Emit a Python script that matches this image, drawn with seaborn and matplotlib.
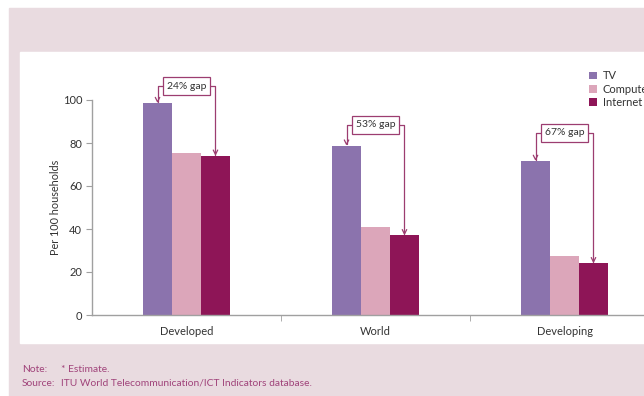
import matplotlib
matplotlib.use("Agg")
import matplotlib.pyplot as plt
from matplotlib.patches import Rectangle
import seaborn as sns
import pandas as pd

regions = ["Developed", "World", "Developing"]
items = ["TV", "Computer", "Internet"]
tv = [98.5, 78.7, 71.6]
computer = [75.5, 41.0, 27.6]
internet = [74.0, 37.0, 24.0]
gap_labels = ["24% gap", "53% gap", "67% gap"]
gap_y = [106.5, 88.4, 84.7]
colors = ["#8b73ad", "#dca6ba", "#8e1557"]

df = pd.DataFrame({
    "region": regions * 3,
    "item": [it for it in items for _ in regions],
    "value": tv + computer + internet,
})

sns.set_style("white")
plt.rcParams["font.family"] = ["Lato", "DejaVu Sans"]

fig = plt.figure(figsize=(6.44, 3.96), dpi=100)
W, H = 644, 396
pink = "#e9dbe0"
fig.patches.append(Rectangle((9 / W, 0), 1, 1 - 8 / H, transform=fig.transFigure,
                             color=pink, zorder=-2))
fig.patches.append(Rectangle((20 / W, 1 - 343 / H), 1, (343 - 52) / H,
                             transform=fig.transFigure, color="white", zorder=-1))

ax = fig.add_axes([92 / W, 1 - 315 / H, (659 - 92) / W, 215 / H])
ax.patch.set_alpha(0)

sns.barplot(data=df, x="region", y="value", hue="item", palette=colors,
            width=0.46, saturation=1, linewidth=0, ax=ax)

ax.set_xlim(-0.5, 2.5)
ax.set_ylim(0, 100)
ax.set_yticks([0, 20, 40, 60, 80, 100])
ax.set_xlabel("")
ax.set_ylabel("Per 100 households", fontsize=7.8, color="#333333", labelpad=1.5)
sns.despine(ax=ax, top=True, right=True)
for s in ["left", "bottom"]:
    ax.spines[s].set_color("#a0a0a0")
    ax.spines[s].set_linewidth(1)
ax.tick_params(axis="y", length=4, color="#a0a0a0", labelsize=8,
               labelcolor="#333333", pad=3, left=True)
ax.tick_params(axis="x", length=0, labelsize=8, labelcolor="#333333", pad=8)
ax.set_xticks([0.5, 1.5], minor=True)
ax.tick_params(axis="x", which="minor", length=4, color="#a0a0a0", bottom=True)

# gap annotations
ac = "#9c3d70"
off = 0.46 / 3
for i in range(len(regions)):
    for xb, yv in [(i - off, tv[i]), (i + off, internet[i])]:
        ax.annotate("", xy=(xb, yv), xytext=(i, gap_y[i]),
                    arrowprops=dict(arrowstyle="->", color=ac, lw=0.9,
                                    mutation_scale=8, shrinkA=0, shrinkB=0,
                                    connectionstyle="angle,angleA=0,angleB=90,rad=0"),
                    zorder=3, annotation_clip=False)
    ax.text(i, gap_y[i], gap_labels[i], ha="center", va="center", fontsize=7.5,
            color="#333333", zorder=5, clip_on=False,
            bbox=dict(boxstyle="square,pad=0.4", fc="white", ec=ac, lw=0.9))

leg = ax.legend(loc="upper left", bbox_to_anchor=(585 / W, 1 - 66 / H),
                bbox_transform=fig.transFigure, frameon=False, fontsize=8,
                handlelength=0.7, handleheight=0.7, handletextpad=0.5,
                labelspacing=0.2, borderaxespad=0)
for t in leg.get_texts():
    t.set_color("#333333")

fc = "#a0437a"
fig.text(22 / W, 1 - 370 / H, "Note:", fontsize=7.4, color=fc, va="center")
fig.text(61 / W, 1 - 370 / H, "* Estimate.", fontsize=7.4, color=fc, va="center")
fig.text(22 / W, 1 - 383 / H, "Source:", fontsize=7.4, color=fc, va="center")
fig.text(61 / W, 1 - 383 / H, "ITU World Telecommunication/ICT Indicators database.",
         fontsize=7.4, color=fc, va="center")

fig.savefig("out.png", dpi=100)
